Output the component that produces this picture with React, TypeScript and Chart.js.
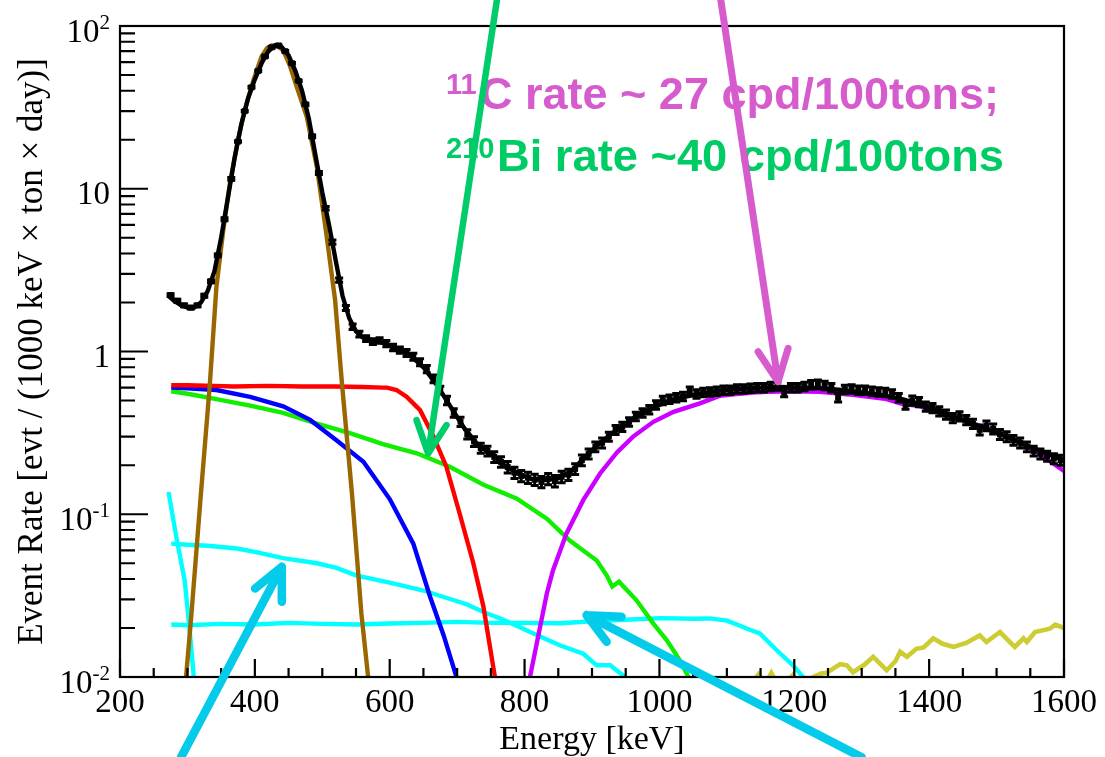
import React, { useEffect, useRef } from "react";
import { Chart, registerables } from "chart.js";
Chart.register(...registerables);

// ---------- axes ----------
const X_MIN = 200;
const X_MAX = 1600;
const Y_MIN = 0.01;
const Y_MAX = 100;
const xTickValues = [200, 400, 600, 800, 1000, 1200, 1400, 1600];
const xTickLabels = ["200", "400", "600", "800", "1000", "1200", "1400", "1600"];
const yTickValues = [0.01, 0.1, 1, 10, 100];
const yTickBase = ["10", "10", "1", "10", "10"];
const yTickExp = ["-2", "-1", "", "", "2"];
const xTitle = "Energy [keV]";
const yTitle = "Event Rate [evt / (1000 keV \u00d7 ton \u00d7 day)]";
const noteC = ["11", "C rate ~ 27 cpd/100tons;"];
const noteBi = ["210", "Bi rate ~40 cpd/100tons"];

// ---------- measured data (10 keV bins) ----------
const dataE = [
  275, 285, 295, 305, 315, 325, 335, 345, 355, 365,
  375, 385, 395, 405, 415, 425, 435, 445, 455, 465,
  475, 485, 495, 505, 515, 525, 535, 545, 555, 565,
  575, 585, 595, 605, 615, 625, 635, 645, 655, 665,
  675, 685, 695, 705, 715, 725, 735, 745, 755, 765,
  775, 785, 795, 805, 815, 825, 835, 845, 855, 865,
  875, 885, 895, 905, 915, 925, 935, 945, 955, 965,
  975, 985, 995, 1005, 1015, 1025, 1035, 1045, 1055, 1065,
  1075, 1085, 1095, 1105, 1115, 1125, 1135, 1145, 1155, 1165,
  1175, 1185, 1195, 1205, 1215, 1225, 1235, 1245, 1255, 1265,
  1275, 1285, 1295, 1305, 1315, 1325, 1335, 1345, 1355, 1365,
  1375, 1385, 1395, 1405, 1415, 1425, 1435, 1445, 1455, 1465,
  1475, 1485, 1495, 1505, 1515, 1525, 1535, 1545, 1555, 1565,
  1575, 1585, 1595,
];
const dataV = [
  2.22, 2.05, 1.92, 1.86, 1.92, 2.2, 2.7, 3.9, 6.5, 11.5,
  19.5, 30, 42, 53, 65, 74, 76, 70, 59, 46,
  33, 21, 12.5, 7.6, 4.7, 2.75, 1.85, 1.42, 1.28, 1.2,
  1.15, 1.17, 1.12, 1.06, 1.02, 0.98, 0.93, 0.86, 0.78, 0.68,
  0.58, 0.5, 0.42, 0.37, 0.31, 0.28, 0.255, 0.245, 0.225, 0.21,
  0.195, 0.18, 0.172, 0.168, 0.163, 0.158, 0.165, 0.16, 0.17, 0.175,
  0.19, 0.215, 0.235, 0.26, 0.275, 0.3, 0.33, 0.345, 0.37, 0.4,
  0.42, 0.44, 0.47, 0.5, 0.51, 0.52, 0.53, 0.57, 0.55, 0.56,
  0.565, 0.57, 0.58, 0.58, 0.59, 0.59, 0.595, 0.6, 0.6, 0.61,
  0.615, 0.56, 0.6, 0.6, 0.61, 0.625, 0.63, 0.62, 0.6, 0.52,
  0.585, 0.59, 0.58, 0.58, 0.57, 0.565, 0.56, 0.55, 0.52, 0.47,
  0.5, 0.49, 0.46, 0.45, 0.43, 0.41, 0.39, 0.4, 0.38, 0.36,
  0.33, 0.35, 0.335, 0.31, 0.3, 0.285, 0.275, 0.26, 0.245, 0.235,
  0.228, 0.22, 0.215,
];
const dataRelErr = [
  0.02, 0.02, 0.02, 0.02, 0.02, 0.02, 0.02, 0.02, 0.02, 0.02,
  0.01, 0.01, 0.01, 0.01, 0.01, 0.01, 0.01, 0.01, 0.01, 0.01,
  0.015, 0.02, 0.02, 0.025, 0.03, 0.03, 0.035, 0.04, 0.04, 0.04,
  0.04, 0.04, 0.045, 0.045, 0.045, 0.05, 0.05, 0.05, 0.05, 0.055,
  0.055, 0.06, 0.06, 0.065, 0.065, 0.07, 0.07, 0.07, 0.075, 0.075,
  0.08, 0.08, 0.08, 0.08, 0.08, 0.08, 0.08, 0.08, 0.08, 0.08,
  0.075, 0.075, 0.07, 0.07, 0.07, 0.065, 0.065, 0.065, 0.06, 0.06,
  0.06, 0.06, 0.06, 0.06, 0.06, 0.06, 0.06, 0.06, 0.06, 0.06,
  0.06, 0.06, 0.06, 0.06, 0.06, 0.06, 0.06, 0.06, 0.06, 0.06,
  0.06, 0.06, 0.06, 0.06, 0.06, 0.06, 0.06, 0.06, 0.06, 0.06,
  0.06, 0.06, 0.06, 0.06, 0.06, 0.06, 0.06, 0.06, 0.06, 0.06,
  0.065, 0.065, 0.065, 0.065, 0.065, 0.065, 0.065, 0.065, 0.065, 0.065,
  0.07, 0.07, 0.07, 0.07, 0.07, 0.07, 0.07, 0.07, 0.07, 0.07,
  0.07, 0.07, 0.07,
];

// ---------- total fit ----------
const fitE = [272, 280, 290, 300, 310, 320, 330, 340, 350, 360, 370, 380, 390, 400, 410, 420, 430, 440, 450, 460, 470, 480, 490, 500, 510, 520, 530, 540, 550, 560, 575, 590, 610, 630, 650, 670, 690, 710, 730, 750, 770, 790, 810, 830, 850, 870, 890, 910, 930, 950, 970, 990, 1010, 1030, 1060, 1090, 1120, 1150, 1180, 1210, 1240, 1270, 1300, 1330, 1360, 1390, 1420, 1450, 1480, 1510, 1540, 1570, 1600];
const fitV = [2.2, 2.05, 1.93, 1.86, 1.86, 2.0, 2.35, 3.1, 5.0, 8.8, 15.5, 25, 36, 47, 59, 70, 76, 74, 66, 53, 40, 27, 16, 9.5, 6.0, 3.6, 2.2, 1.6, 1.33, 1.22, 1.17, 1.13, 1.04, 0.95, 0.8, 0.62, 0.46, 0.34, 0.27, 0.235, 0.2, 0.178, 0.165, 0.162, 0.166, 0.185, 0.225, 0.27, 0.315, 0.36, 0.41, 0.45, 0.49, 0.52, 0.55, 0.575, 0.59, 0.6, 0.605, 0.6, 0.595, 0.58, 0.56, 0.54, 0.51, 0.47, 0.42, 0.38, 0.34, 0.305, 0.27, 0.24, 0.215];

// ---------- components ----------
const brownE = [292, 298, 306, 320, 333, 343, 353, 363, 375, 385, 398, 410, 418, 425, 432, 442, 452, 462, 477, 492, 506, 519, 529, 544, 558, 568, 573];
const brownV = [0.006, 0.01, 0.0245, 0.134, 0.61, 2.5, 5.5, 10.8, 20, 30.5, 46.6, 65, 73, 76, 76, 71, 57, 42.4, 27.7, 13.6, 5.3, 2.07, 0.65, 0.134, 0.0245, 0.01, 0.006];

const redE = [276, 300, 340, 368, 420, 470, 520, 560, 590, 596, 610, 625, 645, 665, 684, 704, 724, 739, 756, 762];
const redV = [0.62, 0.62, 0.615, 0.61, 0.615, 0.61, 0.61, 0.605, 0.6, 0.6, 0.58, 0.527, 0.436, 0.3, 0.196, 0.1, 0.05, 0.027, 0.01, 0.007];

const blueE = [276, 300, 343, 393, 442, 482, 521, 561, 600, 635, 660, 680, 699, 705];
const blueV = [0.6, 0.595, 0.58, 0.527, 0.46, 0.38, 0.285, 0.21, 0.124, 0.066, 0.031, 0.018, 0.01, 0.0075];

const greenE = [276, 300, 343, 393, 442, 492, 541, 590, 640, 689, 739, 788, 833, 867, 907, 922, 930, 940, 966, 991, 1011, 1030, 1043, 1050];
const greenV = [0.57, 0.55, 0.51, 0.465, 0.42, 0.36, 0.315, 0.27, 0.237, 0.196, 0.152, 0.125, 0.094, 0.069, 0.052, 0.042, 0.036, 0.0385, 0.0296, 0.0213, 0.0168, 0.0127, 0.01, 0.008];

const violetE = [805, 808, 833, 842, 862, 887, 912, 937, 961, 991, 1021, 1060, 1090, 1110, 1139, 1159, 1200, 1238, 1290, 1337, 1357, 1387, 1431, 1470, 1505, 1555, 1601];
const violetV = [0.007, 0.01, 0.0326, 0.045, 0.076, 0.122, 0.178, 0.24, 0.3, 0.37, 0.426, 0.48, 0.535, 0.545, 0.56, 0.565, 0.57, 0.565, 0.54, 0.51, 0.48, 0.46, 0.4, 0.355, 0.315, 0.248, 0.183];

const cyanAE = [272, 283, 296, 303, 309, 312];
const cyanAV = [0.137, 0.0745, 0.039, 0.02, 0.0105, 0.007];

const cyanBE = [276, 300, 330, 373, 400, 442, 492, 520, 551, 600, 650, 680, 714, 740, 764, 790, 813, 853, 887, 907, 927, 949, 955];
const cyanBV = [0.066, 0.065, 0.064, 0.0616, 0.0587, 0.0537, 0.05, 0.047, 0.042, 0.038, 0.034, 0.031, 0.028, 0.025, 0.0229, 0.0205, 0.0185, 0.0156, 0.0139, 0.0118, 0.0118, 0.01, 0.008];

const cyanCE = [276, 300, 350, 400, 450, 500, 550, 600, 650, 700, 750, 800, 853, 900, 950, 1001, 1050, 1075, 1100, 1115, 1130, 1149, 1174, 1198, 1213, 1218];
const cyanCV = [0.021, 0.0208, 0.0212, 0.021, 0.0215, 0.0212, 0.021, 0.0213, 0.0215, 0.0218, 0.0215, 0.0215, 0.0214, 0.022, 0.0225, 0.023, 0.0228, 0.0229, 0.0222, 0.021, 0.0198, 0.0185, 0.0146, 0.0118, 0.01, 0.008];

const oliveE = [1140, 1147, 1153, 1160, 1166, 1172, 1190, 1198, 1205, 1222, 1228, 1240, 1248, 1268, 1278, 1287, 1303, 1317, 1328, 1337, 1350, 1357, 1367, 1381, 1392, 1406, 1420, 1436, 1455, 1475, 1485, 1505, 1527, 1540, 1545, 1557, 1579, 1587, 1601];
const oliveV = [0.0095, 0.0104, 0.0095, 0.0095, 0.0106, 0.0095, 0.0095, 0.0103, 0.0095, 0.0096, 0.01, 0.0105, 0.0106, 0.012, 0.0118, 0.0107, 0.0118, 0.0133, 0.012, 0.011, 0.0125, 0.0143, 0.0133, 0.0149, 0.0152, 0.0173, 0.016, 0.0153, 0.0162, 0.018, 0.0164, 0.0189, 0.0153, 0.0173, 0.0164, 0.0189, 0.0198, 0.021, 0.0199];

// ---------- annotation arrows (data coordinates: tail, tip) ----------
const arrowGreen = { tail: [759, 144.5], tip: [657, 0.2366] };
const arrowViolet = { tail: [1091, 144.5], tip: [1176, 0.652] };
const arrowCyan1 = { tail: [290.5, 0.00321], tip: [440, 0.0475] };
const arrowCyan2 = { tail: [1300, 0.00321], tip: [892, 0.024] };

const SERIF = '"Liberation Serif", "Times New Roman", serif';
const SANS = '"Liberation Sans", Arial, sans-serif';

const toXY = (xs: number[], ys: number[]) => xs.map((x, i) => ({ x, y: ys[i] }));

function lineDs(label: string, xs: number[], ys: number[], color: string, order: number, width = 4.4) {
  return {
    type: "line" as const,
    label,
    data: toXY(xs, ys),
    borderColor: color,
    backgroundColor: color,
    borderWidth: width,
    pointRadius: 0,
    tension: 0,
    fill: false,
    order,
  };
}

function drawArrow(
  ctx: CanvasRenderingContext2D,
  tail: number[],
  tip: number[],
  wings: number[][],
  color: string,
  width: number
) {
  ctx.save();
  ctx.strokeStyle = color;
  ctx.lineWidth = width;
  ctx.lineCap = "round";
  ctx.lineJoin = "round";
  ctx.beginPath();
  ctx.moveTo(tail[0], tail[1]);
  ctx.lineTo(tip[0], tip[1]);
  for (const w of wings) {
    ctx.moveTo(tip[0] + w[0], tip[1] + w[1]);
    ctx.lineTo(tip[0], tip[1]);
  }
  ctx.stroke();
  ctx.restore();
}

function drawStretched(ctx: CanvasRenderingContext2D, text: string, x: number, y: number, width: number) {
  const m = ctx.measureText(text).width;
  ctx.save();
  ctx.translate(x, y);
  ctx.scale(width / m, 1);
  ctx.fillText(text, 0, 0);
  ctx.restore();
}

const overlayPlugin = {
  id: "overlay",
  afterDatasetsDraw(chart: any) {
    const { ctx, chartArea: a, scales } = chart;
    const xs = scales.x;
    const ys = scales.y;
    ctx.save();
    ctx.beginPath();
    ctx.rect(a.left, a.top, a.right - a.left, a.bottom - a.top);
    ctx.clip();
    ctx.strokeStyle = "#000";
    ctx.lineWidth = 3;
    for (let i = 0; i < dataE.length; i++) {
      const x = xs.getPixelForValue(dataE[i]);
      const y1 = ys.getPixelForValue(dataV[i] * (1 + dataRelErr[i]));
      const y2 = ys.getPixelForValue(dataV[i] * (1 - dataRelErr[i]));
      ctx.beginPath();
      ctx.moveTo(x, y1);
      ctx.lineTo(x, y2);
      ctx.moveTo(x - 4, y1);
      ctx.lineTo(x + 4, y1);
      ctx.moveTo(x - 4, y2);
      ctx.lineTo(x + 4, y2);
      ctx.stroke();
    }
    ctx.restore();
  },
  afterDraw(chart: any) {
    const { ctx, chartArea: a, scales } = chart;
    const xs = scales.x;
    const ys = scales.y;
    ctx.save();
    // frame
    ctx.strokeStyle = "#000";
    ctx.lineWidth = 2.2;
    ctx.strokeRect(a.left, a.top, a.right - a.left, a.bottom - a.top);

    // x ticks
    ctx.beginPath();
    for (let v = X_MIN; v <= X_MAX; v += 50) {
      const x = xs.getPixelForValue(v);
      const len = v % 200 === 0 ? 18 : 9;
      ctx.moveTo(x, a.bottom);
      ctx.lineTo(x, a.bottom - len);
    }
    // y ticks
    for (let d = -2; d < 2; d++) {
      for (let k = 1; k <= 9; k++) {
        const v = k * Math.pow(10, d);
        const y = ys.getPixelForValue(v);
        const len = k === 1 ? 28 : 15;
        ctx.moveTo(a.left, y);
        ctx.lineTo(a.left + len, y);
      }
    }
    ctx.stroke();

    // x tick labels
    ctx.fillStyle = "#000";
    ctx.font = `33px ${SERIF}`;
    ctx.textAlign = "center";
    ctx.textBaseline = "alphabetic";
    xTickValues.forEach((v, i) => {
      ctx.fillText(xTickLabels[i], xs.getPixelForValue(v), a.bottom + 35);
    });

    // y tick labels
    yTickValues.forEach((v, i) => {
      const y = ys.getPixelForValue(v);
      const right = a.left - 10;
      if (yTickExp[i] === "") {
        ctx.font = `33px ${SERIF}`;
        ctx.textAlign = "right";
        ctx.fillText(yTickBase[i], right, y + 15);
      } else {
        ctx.font = `21px ${SERIF}`;
        const ew = ctx.measureText(yTickExp[i]).width;
        ctx.textAlign = "right";
        ctx.fillText(yTickExp[i], right, y + 3);
        ctx.font = `33px ${SERIF}`;
        ctx.fillText(yTickBase[i], right - ew, y + 16);
      }
    });

    // axis titles
    ctx.font = `34px ${SERIF}`;
    ctx.textAlign = "center";
    ctx.fillText(xTitle, (a.left + a.right) / 2, 749);
    ctx.save();
    ctx.translate(42, (a.top + a.bottom) / 2);
    ctx.rotate(-Math.PI / 2);
    ctx.font = `35px ${SERIF}`;
    ctx.fillText(yTitle, 0, 0);
    ctx.restore();

    // notes
    ctx.textAlign = "left";
    ctx.fillStyle = "#d65ccd";
    ctx.font = `bold 29px ${SANS}`;
    ctx.fillText(noteC[0], 446, 94);
    ctx.font = `bold 45px ${SANS}`;
    drawStretched(ctx, noteC[1], 480, 109, 519);
    ctx.fillStyle = "#00cc66";
    ctx.font = `bold 29px ${SANS}`;
    ctx.fillText(noteBi[0], 446, 158);
    ctx.font = `bold 45px ${SANS}`;
    drawStretched(ctx, noteBi[1], 497, 171, 507);

    // arrows
    const px = (p: number[]) => [xs.getPixelForValue(p[0]), ys.getPixelForValue(p[1])];
    drawArrow(ctx, px(arrowGreen.tail), px(arrowGreen.tip), [[-11.6, -33.3], [18.4, -28.3]], "#00cc6a", 6.5);
    drawArrow(ctx, px(arrowViolet.tail), px(arrowViolet.tip), [[-20, -30], [10, -33.4]], "#d65ccd", 7);
    drawArrow(ctx, px(arrowCyan1.tail), px(arrowCyan1.tip), [[-26.7, 21.6], [0, 35]], "#05cbea", 8.5);
    drawArrow(ctx, px(arrowCyan2.tail), px(arrowCyan2.tip), [[35, 1.7], [20, 26.7]], "#05cbea", 8.5);
    ctx.restore();
  },
};

export default function App() {
  const ref = useRef<HTMLCanvasElement | null>(null);
  useEffect(() => {
    if (!ref.current) return;
    const chart = new Chart(ref.current, {
      type: "line",
      data: {
        datasets: [
          {
            type: "scatter",
            label: "data",
            data: toXY(dataE, dataV),
            pointStyle: "rect",
            pointRadius: 4.2,
            pointBackgroundColor: "#000",
            pointBorderWidth: 0,
            showLine: false,
            order: 0,
          } as any,
          lineDs("total", fitE, fitV, "#000000", 1, 4.4),
          lineDs("11C", violetE, violetV, "#cc00ff", 2),
          lineDs("210Po", brownE, brownV, "#996600", 3),
          lineDs("red", redE, redV, "#ff0000", 4),
          lineDs("blue", blueE, blueV, "#0000ff", 5),
          lineDs("210Bi", greenE, greenV, "#11ee00", 6),
          lineDs("cyanA", cyanAE, cyanAV, "#00ffff", 7),
          lineDs("cyanB", cyanBE, cyanBV, "#00ffff", 7),
          lineDs("cyanC", cyanCE, cyanCV, "#00ffff", 7),
          lineDs("olive", oliveE, oliveV, "#cccc33", 8, 4.6),
        ],
      },
      options: {
        responsive: false,
        animation: false,
        devicePixelRatio: 1,
        layout: { padding: { left: 120, right: 41, top: 26, bottom: 80 } },
        scales: {
          x: { type: "linear", min: X_MIN, max: X_MAX, display: false },
          y: { type: "logarithmic", min: Y_MIN, max: Y_MAX, display: false },
        },
        plugins: {
          legend: { display: false },
          tooltip: { enabled: false },
        },
      },
      plugins: [overlayPlugin],
    });
    return () => chart.destroy();
  }, []);
  return (
    <div style={{ position: "fixed", left: 0, top: 0, width: 1105, height: 757, background: "#fff" }}>
      <canvas ref={ref} width={1105} height={757} style={{ display: "block" }} />
    </div>
  );
}
